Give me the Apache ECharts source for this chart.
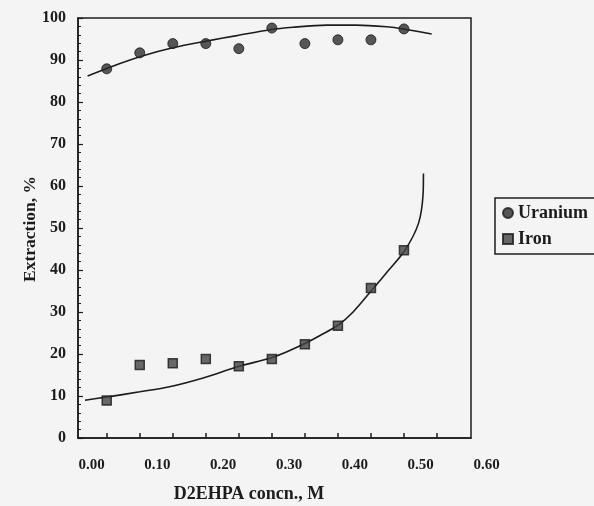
<!DOCTYPE html>
<html>
<head>
<meta charset="utf-8">
<script src="https://cdn.jsdelivr.net/npm/echarts@6/dist/echarts.min.js"></script>
<style>
  html, body { margin: 0; padding: 0; background: #f4f4f4; }
  #chart { width: 594px; height: 506px; }
</style>
</head>
<body>
<div id="chart"></div>
<script>
// D2EHPA concentration (M) of the measured points
const concn = [0.025, 0.075, 0.125, 0.175, 0.225, 0.275, 0.325, 0.375, 0.425, 0.475]
const uranium = [87.9, 91.7, 93.9, 93.9, 92.7, 97.6, 93.9, 94.8, 94.8, 97.4]
const iron = [8.9, 17.4, 17.8, 18.8, 17.1, 18.8, 22.3, 26.7, 35.7, 44.7]

// fitted curves
const uraniumFitX = [-0.004, 0.03, 0.08, 0.125, 0.176, 0.222, 0.272, 0.307, 0.358, 0.403, 0.449, 0.474, 0.517]
const uraniumFitY = [86.2, 88.3, 91.0, 92.9, 94.5, 95.8, 97.2, 97.8, 98.3, 98.3, 97.9, 97.4, 96.2]
const ironFitX = [-0.008, 0.027, 0.075, 0.12, 0.171, 0.224, 0.272, 0.297, 0.325, 0.348, 0.3755, 0.398, 0.4285, 0.451, 0.4765, 0.497, 0.504, 0.5045]
const ironFitY = [9.0, 9.8, 11.0, 12.2, 14.3, 17.0, 19.0, 20.5, 22.5, 24.4, 26.9, 30.0, 35.6, 39.8, 44.7, 51.1, 58.2, 63.0]

const xTickLabels = ['0.00', '0.10', '0.20', '0.30', '0.40', '0.50', '0.60']
const yTickLabels = ['0', '10', '20', '30', '40', '50', '60', '70', '80', '90', '100']

const font = 'Liberation Serif'
const ink = '#1c1c1c'

const zip = (xs, ys) => xs.map((x, i) => [x, ys[i]])

const chart = echarts.init(document.getElementById('chart'))

const option = {
  backgroundColor: '#f4f4f4',
  animation: false,
  grid: [
    // plot frame / data
    { left: 78, top: 18, width: 393, height: 420, show: true, borderColor: ink, borderWidth: 1.5 },
    // tick marks at the data positions
    { left: 107, top: 18, width: 330, height: 420 },
    // x tick labels
    { left: 91.5, top: 18, width: 395, height: 420 }
  ],
  xAxis: [
    {
      gridIndex: 0, type: 'value', min: -0.0185, max: 0.5765,
      axisLine: { onZero: false, lineStyle: { color: ink, width: 1.5 } },
      axisTick: { show: false }, axisLabel: { show: false }, splitLine: { show: false }
    },
    {
      gridIndex: 1, type: 'value', min: 0.025, max: 0.525, interval: 0.05,
      axisLine: { show: false, onZero: false },
      axisTick: { show: true, inside: true, length: 5, lineStyle: { color: ink, width: 1.5 } },
      axisLabel: { show: false }, splitLine: { show: false }
    },
    {
      gridIndex: 2, type: 'value', min: 0, max: 0.6, interval: 0.1,
      axisLine: { show: false, onZero: false }, axisTick: { show: false }, splitLine: { show: false },
      axisLabel: {
        margin: 20, color: ink, fontFamily: font, fontWeight: 'bold', fontSize: 15,
        formatter: (v) => xTickLabels[Math.round(v * 10)]
      }
    }
  ],
  yAxis: [
    {
      gridIndex: 0, type: 'value', min: 0, max: 100, interval: 10,
      axisLine: { show: true, onZero: false, lineStyle: { color: ink, width: 1.5 } },
      axisTick: { show: true, inside: true, length: 5, lineStyle: { color: ink, width: 1.2 } },
      minorTick: { show: true, splitNumber: 5, length: 3, lineStyle: { color: ink, width: 1 } },
      splitLine: { show: false },
      axisLabel: {
        margin: 12, color: ink, fontFamily: font, fontWeight: 'bold', fontSize: 16,
        formatter: (v) => yTickLabels[Math.round(v / 10)]
      }
    },
    { gridIndex: 1, type: 'value', min: 0, max: 100, show: false },
    { gridIndex: 2, type: 'value', min: 0, max: 100, show: false }
  ],
  legend: {
    data: ['Uranium', 'Iron'],
    orient: 'vertical',
    left: 495, top: 198,
    padding: [6, 40, 6, 7],
    itemGap: 8,
    itemWidth: 10, itemHeight: 10,
    borderColor: ink, borderWidth: 1.5,
    textStyle: { color: ink, fontFamily: font, fontWeight: 'bold', fontSize: 18 }
  },
  graphic: [
    {
      type: 'text',
      position: [249, 494],
      style: {
        text: 'D2EHPA concn., M', fill: ink,
        font: 'bold 18px "Liberation Serif"', textAlign: 'center', textVerticalAlign: 'middle'
      }
    },
    {
      type: 'text',
      position: [30, 229], rotation: Math.PI / 2,
      style: {
        text: 'Extraction, %', fill: ink,
        font: 'bold 17.5px "Liberation Serif"', textAlign: 'center', textVerticalAlign: 'middle'
      }
    }
  ],
  series: [
    {
      name: 'Uranium fit', type: 'line', xAxisIndex: 0, yAxisIndex: 0,
      data: zip(uraniumFitX, uraniumFitY), smooth: 0.3, showSymbol: false,
      lineStyle: { color: ink, width: 1.6 }, z: 1
    },
    {
      name: 'Iron fit', type: 'line', xAxisIndex: 0, yAxisIndex: 0,
      data: zip(ironFitX, ironFitY), smooth: 0.3, showSymbol: false,
      lineStyle: { color: ink, width: 1.6 }, z: 1
    },
    {
      name: 'Uranium', type: 'scatter', xAxisIndex: 0, yAxisIndex: 0,
      data: zip(concn, uranium), symbol: 'circle', symbolSize: 10,
      itemStyle: { color: '#2e2e2e', borderColor: '#1a1a1a', borderWidth: 1 }, z: 3
    },
    {
      name: 'Iron', type: 'scatter', xAxisIndex: 0, yAxisIndex: 0,
      data: zip(concn, iron), symbol: 'rect', symbolSize: 9,
      itemStyle: { color: '#444', borderColor: '#1a1a1a', borderWidth: 1.5 }, z: 3
    }
  ]
}

chart.setOption(option)
</script>
</body>
</html>
